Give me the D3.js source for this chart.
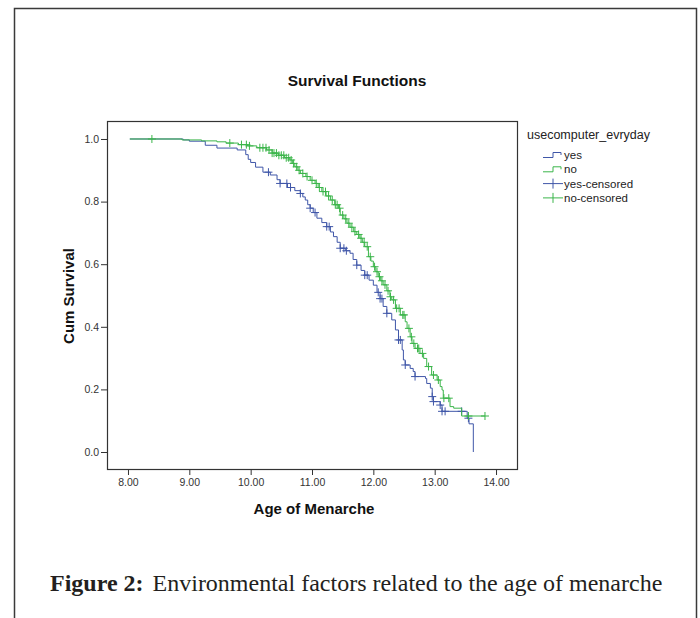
<!DOCTYPE html>
<html>
<head>
<meta charset="utf-8">
<script src="https://cdn.jsdelivr.net/npm/d3@7"></script>
<style>
    html, body { margin: 0; padding: 0; background: #fff; }
</style>
</head>
<body>
<div id="chartContainer"></div>
<script>
// group "yes": event times and survival after each step
const yesTimes = [8.03, 8.90, 9.00, 9.26, 9.45, 9.78, 9.92, 9.96, 10.00, 10.08, 10.20, 10.32, 10.43, 10.48, 10.60,
    10.72, 10.81, 10.85, 10.89, 10.93, 10.97, 11.02, 11.08, 11.16, 11.24, 11.30, 11.35, 11.41, 11.46, 11.55,
    11.62, 11.67, 11.73, 11.80, 11.86, 11.93, 12.00, 12.06, 12.11, 12.16, 12.22, 12.30, 12.36, 12.41, 12.47,
    12.49, 12.52, 12.60, 12.65, 12.68, 12.85, 12.87, 12.93, 12.96, 12.98, 13.09, 13.12, 13.53, 13.56, 13.63];
const yesSurv = [1.000, 0.997, 0.993, 0.980, 0.971, 0.965, 0.950, 0.935, 0.925, 0.910, 0.894, 0.885, 0.870, 0.858, 0.845,
    0.835, 0.826, 0.815, 0.805, 0.790, 0.779, 0.765, 0.747, 0.733, 0.720, 0.703, 0.688, 0.670, 0.651, 0.643,
    0.635, 0.615, 0.597, 0.580, 0.565, 0.549, 0.533, 0.510, 0.490, 0.465, 0.443, 0.422, 0.390, 0.358, 0.326,
    0.294, 0.278, 0.267, 0.257, 0.241, 0.235, 0.219, 0.204, 0.177, 0.161, 0.150, 0.130, 0.108, 0.090, 0.000];
const yesCensored = [10.29, 10.48, 10.59, 10.65, 10.81, 10.97, 11.05, 11.24, 11.28, 11.46, 11.52, 11.56, 11.73,
    11.86, 11.90, 12.08, 12.11, 12.14, 12.22, 12.41, 12.44, 12.52, 12.68, 12.96, 12.98, 13.09, 13.12, 13.17,
    13.44, 13.55];

// group "no"
const noTimes = [8.03, 8.88, 9.20, 9.45, 9.60, 9.80, 9.95, 10.10, 10.26, 10.35, 10.45, 10.55, 10.64, 10.68, 10.72,
    10.77, 10.81, 10.90, 10.97, 11.05, 11.10, 11.16, 11.23, 11.30, 11.37, 11.43, 11.46, 11.52, 11.57, 11.62,
    11.68, 11.73, 11.78, 11.82, 11.86, 11.92, 11.96, 12.00, 12.04, 12.08, 12.12, 12.16, 12.22, 12.27, 12.30,
    12.36, 12.44, 12.52, 12.55, 12.60, 12.63, 12.68, 12.76, 12.82, 12.87, 12.95, 13.04, 13.09, 13.12, 13.14,
    13.25, 13.31, 13.44];
const noSurv = [1.000, 0.997, 0.994, 0.991, 0.987, 0.982, 0.978, 0.972, 0.965, 0.955, 0.948, 0.940, 0.933, 0.922, 0.911,
    0.900, 0.890, 0.880, 0.868, 0.858, 0.845, 0.832, 0.818, 0.805, 0.790, 0.779, 0.757, 0.745, 0.731, 0.718,
    0.704, 0.695, 0.683, 0.670, 0.656, 0.624, 0.610, 0.592, 0.576, 0.560, 0.547, 0.534, 0.515, 0.496, 0.486,
    0.459, 0.438, 0.416, 0.395, 0.368, 0.347, 0.331, 0.315, 0.299, 0.273, 0.246, 0.230, 0.209, 0.198, 0.172,
    0.145, 0.140, 0.115];
const noCensored = [8.39, 9.66, 9.85, 9.93, 9.98, 10.15, 10.20, 10.25, 10.30, 10.35, 10.38, 10.42, 10.46, 10.50,
    10.54, 10.58, 10.62, 10.66, 10.70, 10.75, 10.79, 10.85, 10.92, 11.00, 11.07, 11.12, 11.18, 11.22, 11.27,
    11.33, 11.38, 11.41, 11.45, 11.50, 11.55, 11.60, 11.65, 11.70, 11.76, 11.80, 11.85, 11.90, 11.95, 12.02,
    12.06, 12.10, 12.14, 12.19, 12.24, 12.28, 12.33, 12.38, 12.42, 12.48, 12.50, 12.58, 12.62, 12.66, 12.72,
    12.74, 12.80, 12.90, 12.98, 13.06, 13.15, 13.23, 13.55, 13.82];

const xTicks = [8, 9, 10, 11, 12, 13, 14];
const yTicks = [0, 0.2, 0.4, 0.6, 0.8, 1.0];
const legendLabels = ['yes', 'no', 'yes-censored', 'no-censored'];

const colorYes = '#3f56a8';
const colorNo = '#3bb54a';

function makeChart() {
    const width = 700;
    const height = 618;

    const svg = d3.select('#chartContainer')
        .append('svg')
        .attr('width', width)
        .attr('height', height)
        .style('font-family', 'Arial, "Liberation Sans", sans-serif');

    // frame round the figure
    svg.append('path')
        .attr('d', 'M14.5,620 L14.5,8.5 L696.5,8.5 L696.5,620')
        .attr('fill', 'none')
        .attr('stroke', '#3a3a3a')
        .attr('stroke-width', 1.5);

    const plot = { left: 107, right: 517, top: 121, bottom: 469 };

    const scX = d3.scaleLinear()
        .domain([7.658, 14.342])
        .range([plot.left, plot.right]);

    const scY = d3.scaleLinear()
        .domain([-0.0543, 1.0575])
        .range([plot.bottom, plot.top]);

    svg.append('text')
        .attr('x', 357)
        .attr('y', 86)
        .attr('text-anchor', 'middle')
        .style('font-size', '15.5px')
        .style('font-weight', 'bold')
        .attr('fill', '#111')
        .text('Survival Functions');

    // axes
    const xAxis = d3.axisBottom(scX)
        .tickValues(xTicks)
        .tickFormat(d3.format('.2f'))
        .tickSizeInner(6)
        .tickSizeOuter(0)
        .tickPadding(4);

    const gx = svg.append('g')
        .attr('transform', `translate(0, ${plot.bottom})`)
        .call(xAxis);

    const yAxis = d3.axisLeft(scY)
        .tickValues(yTicks)
        .tickFormat(d3.format('.1f'))
        .tickSizeInner(6)
        .tickSizeOuter(0)
        .tickPadding(2);

    const gy = svg.append('g')
        .attr('transform', `translate(${plot.left}, 0)`)
        .call(yAxis);

    [gx, gy].forEach(g => {
        g.select('.domain').remove();
        g.selectAll('.tick line').attr('stroke', '#333');
        g.selectAll('.tick text')
            .attr('fill', '#333')
            .style('font-size', '10.5px')
            .style('font-family', 'Arial, "Liberation Sans", sans-serif');
    });

    svg.append('rect')
        .attr('x', plot.left + 0.5)
        .attr('y', plot.top + 0.5)
        .attr('width', plot.right - plot.left)
        .attr('height', plot.bottom - plot.top)
        .attr('fill', 'none')
        .attr('stroke', '#333')
        .attr('stroke-width', 1.2);

    svg.append('text')
        .attr('x', 314)
        .attr('y', 514)
        .attr('text-anchor', 'middle')
        .style('font-size', '15px')
        .style('font-weight', 'bold')
        .attr('fill', '#111')
        .text('Age of Menarche');

    svg.append('text')
        .attr('transform', 'translate(74, 296) rotate(-90)')
        .attr('text-anchor', 'middle')
        .style('font-size', '15px')
        .style('font-weight', 'bold')
        .attr('fill', '#111')
        .text('Cum Survival');

    // step curves
    const groups = [
        { times: yesTimes, surv: yesSurv, censored: yesCensored, color: colorYes },
        { times: noTimes, surv: noSurv, censored: noCensored, color: colorNo }
    ];

    const lineMaker = d3.line()
        .x(d => scX(d[0]))
        .y(d => scY(d[1]))
        .curve(d3.curveStepAfter);

    const bis = d3.bisector(d => d).right;

    groups.forEach(gr => {
        const pts = gr.times.map((t, i) => [t, gr.surv[i]]);
        // the line runs on to the last censored case
        const lastT = d3.max(gr.censored);
        if (lastT > gr.times[gr.times.length - 1]) {
            pts.push([lastT, gr.surv[gr.surv.length - 1]]);
        }
        svg.append('path')
            .attr('fill', 'none')
            .attr('stroke', gr.color)
            .attr('stroke-width', 1)
            .attr('d', lineMaker(pts));

        // censor marks sit on the step that is current at that time
        const marks = gr.censored.map(t => {
            const i = Math.max(0, bis(gr.times, t) - 1);
            return [t, gr.surv[i]];
        });

        svg.append('g')
            .selectAll('path')
            .data(marks)
            .enter()
            .append('path')
            .attr('transform', d => `translate(${scX(d[0])}, ${scY(d[1])})`)
            .attr('d', 'M-4,0 H4 M0,-4 V4')
            .attr('stroke', gr.color)
            .attr('stroke-width', 1)
            .attr('fill', 'none');
    });

    // legend
    const legend = svg.append('g')
        .attr('transform', 'translate(527, 0)');

    legend.append('text')
        .attr('x', 0)
        .attr('y', 139)
        .style('font-size', '12.5px')
        .attr('fill', '#222')
        .text('usecomputer_evryday');

    const legendColors = [colorYes, colorNo, colorYes, colorNo];

    legendLabels.forEach((lab, i) => {
        const y = 155 + i * 14.3;
        const item = legend.append('g')
            .attr('transform', `translate(0, ${y})`);
        if (i < 2) {
            item.append('path')
                .attr('d', 'M16,2.5 H26 V-2.5 H34 V0')
                .attr('fill', 'none')
                .attr('stroke', legendColors[i])
                .attr('stroke-width', 1);
        } else {
            item.append('path')
                .attr('d', 'M16,0 H36 M26,-5 V5')
                .attr('fill', 'none')
                .attr('stroke', legendColors[i])
                .attr('stroke-width', 1);
        }
        item.append('text')
            .attr('x', 37)
            .attr('y', 4)
            .style('font-size', '11.5px')
            .attr('fill', '#222')
            .text(lab);
    });

    // caption
    const cap = svg.append('text')
        .attr('x', 50)
        .attr('y', 591)
        .style('font-family', '"Liberation Serif", "Times New Roman", serif')
        .style('font-size', '24px')
        .attr('fill', '#231f20');
    cap.append('tspan')
        .style('font-weight', 'bold')
        .text('Figure 2:');
    cap.append('tspan')
        .attr('dx', 9)
        .text('Environmental factors related to the age of menarche');
}

makeChart();
</script>
</body>
</html>
